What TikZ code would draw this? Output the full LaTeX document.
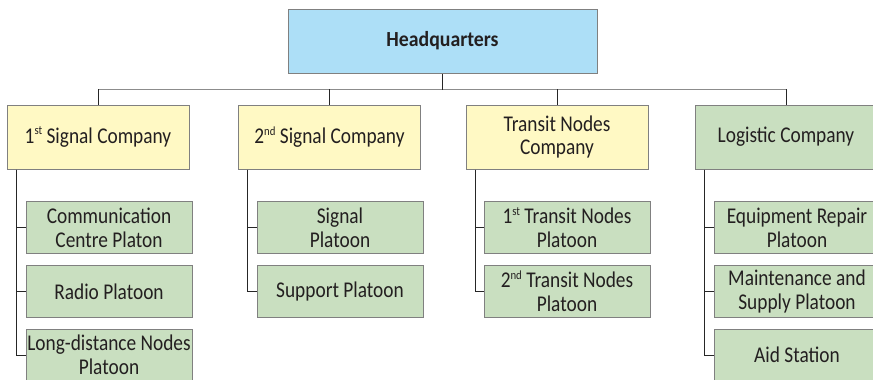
\documentclass[tikz,border=0pt]{standalone}
\usepackage{fontspec}
\setmainfont[FakeStretch=0.86,BoldFeatures={FakeStretch=0.92}]{Carlito}
\definecolor{hqblue}{RGB}{173,223,247}
\definecolor{coyellow}{RGB}{255,249,196}
\definecolor{plgreen}{RGB}{201,223,192}
\definecolor{boxline}{RGB}{128,128,128}
\definecolor{txt}{RGB}{35,31,32}
\newcommand{\ordsup}[1]{\raisebox{0.75ex}{\fontsize{12.5}{12.5}\selectfont #1}}
\begin{document}
\begin{tikzpicture}[x=1pt,y=-1pt]
	\tikzstyle{hq}=[draw=boxline,line width=1pt,fill=hqblue,minimum width=309pt,minimum height=64pt,inner sep=0pt,text=txt,font=\fontsize{21.5}{24}\selectfont\bfseries]
	\tikzstyle{company}=[draw=boxline,line width=1pt,fill=coyellow,minimum width=182pt,minimum height=64pt,inner sep=0pt,align=center,text=txt,font=\fontsize{22.5}{24}\selectfont]
	\tikzstyle{logistic}=[company,fill=plgreen]
	\tikzstyle{platoon}=[draw=boxline,line width=1pt,fill=plgreen,minimum width=166pt,minimum height=52pt,inner sep=0pt,align=center,text=txt,font=\fontsize{22.5}{24}\selectfont]
	\tikzstyle{edge}=[draw=black!85,line width=0.9pt]
	\tikzstyle{bus}=[draw=black!45,line width=1pt]

	\useasboundingbox (0,0) rectangle (873,380);

	\node [hq] (hq) at (442.5,41) {Headquarters};

	\node [company] (c1) at (98,137) {1\ordsup{st} Signal Company};
	\node [company] (c2) at (329.5,137) {2\ordsup{nd} Signal Company};
	\node [company] (c3) at (557,137) {Transit Nodes\\Company};
	\node [logistic] (c4) at (786,137) {Logistic Company};

	\node [platoon] (c1a) at (109,227.5) {Communication\\Centre Platon};
	\node [platoon] (c1b) at (109,291.5) {Radio Platoon};
	\node [platoon] (c1c) at (109,355) {Long-distance Nodes\\Platoon};

	\node [platoon] (c2a) at (340,227.5) {Signal\\Platoon};
	\node [platoon] (c2b) at (340,291.5) {Support Platoon};

	\node [platoon] (c3a) at (567,227.5) {1\ordsup{st} Transit Nodes\\Platoon};
	\node [platoon] (c3b) at (567,291.5) {2\ordsup{nd} Transit Nodes\\Platoon};

	\node [platoon] (c4a) at (797,227.5) {Equipment Repair\\Platoon};
	\node [platoon] (c4b) at (797,291.5) {Maintenance and\\Supply Platoon};
	\node [platoon] (c4c) at (797,355) {Aid Station};

	\path[bus] ([yshift=-16pt]hq.south) -| ([yshift=16pt]c1.north);
	\path[bus] ([yshift=-16pt]hq.south) -| ([yshift=16pt]c4.north);
	\path[edge] (hq.south) -- ++(0,16);
	\path[edge] (c1.north) -- ++(0,-16);
	\path[edge] (c2.north) -- ++(0,-16);
	\path[edge] (c3.north) -- ++(0,-16);
	\path[edge] (c4.north) -- ++(0,-16);

	\path[edge] ([xshift=10pt]c1.south west) |- (c1a.west);
	\path[edge] ([xshift=10pt]c1.south west) |- (c1b.west);
	\path[edge] ([xshift=10pt]c1.south west) |- (c1c.west);
	\path[edge] ([xshift=9pt]c2.south west) |- (c2a.west);
	\path[edge] ([xshift=9pt]c2.south west) |- (c2b.west);
	\path[edge] ([xshift=10pt]c3.south west) |- (c3a.west);
	\path[edge] ([xshift=10pt]c3.south west) |- (c3b.west);
	\path[edge] ([xshift=10pt]c4.south west) |- (c4a.west);
	\path[edge] ([xshift=10pt]c4.south west) |- (c4b.west);
	\path[edge] ([xshift=10pt]c4.south west) |- (c4c.west);
\end{tikzpicture}
\end{document}
